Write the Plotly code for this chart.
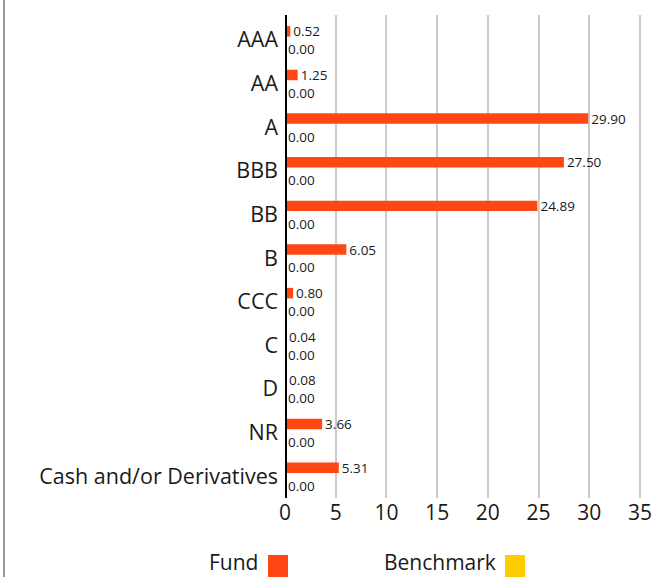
import plotly.graph_objects as go

categories = ["AAA", "AA", "A", "BBB", "BB", "B", "CCC", "C", "D", "NR", "Cash and/or Derivatives"]
fund = [0.52, 1.25, 29.90, 27.50, 24.89, 6.05, 0.80, 0.04, 0.08, 3.66, 5.31]
benchmark = [0.00, 0.00, 0.00, 0.00, 0.00, 0.00, 0.00, 0.00, 0.00, 0.00, 0.00]
x_ticks = [0, 5, 10, 15, 20, 25, 30, 35]

FUND_COLOR = "#FF4713"
BENCH_COLOR = "#FFCC00"
FONT = "Open Sans, sans-serif"
TXT = "#1A1A1A"

BAND = 43.7  # px per category
BAR_W = 10.5 / BAND

fig = go.Figure()
fig.add_trace(go.Bar(
    y=categories, x=fund, orientation="h", name="Fund",
    width=BAR_W, offset=-8.5 / BAND - BAR_W / 2,
    marker=dict(color=FUND_COLOR, line=dict(width=0)),
    texttemplate="%{x:.2f}", textposition="outside", cliponaxis=False,
    constraintext="none",
    textfont=dict(family=FONT, size=13.5, color=TXT),
))
fig.add_trace(go.Bar(
    y=categories, x=benchmark, orientation="h", name="Benchmark",
    width=BAR_W, offset=9.5 / BAND - BAR_W / 2,
    marker=dict(color=BENCH_COLOR, line=dict(width=0)),
    texttemplate="%{x:.2f}", textposition="outside", cliponaxis=False,
    constraintext="none",
    textfont=dict(family=FONT, size=13.5, color=TXT),
))

L, R, T, B = 285, 29, 15, 79
W, H = 672, 577
pw, ph = W - L - R, H - T - B

fig.update_layout(
    width=W, height=H,
    margin=dict(l=L, r=R, t=T, b=B, pad=0, autoexpand=False),
    paper_bgcolor="white", plot_bgcolor="white",
    barmode="overlay",
    showlegend=False,
    font=dict(family=FONT, color=TXT),
    xaxis=dict(
        range=[0, 35.3], tickvals=x_ticks, ticktext=[str(v) for v in x_ticks],
        showgrid=True, gridcolor="#CCCCCC", gridwidth=2,
        zeroline=False, showline=False,
        tickfont=dict(family=FONT, size=21, color=TXT),
        ticks="", ticklabelstandoff=0,
    ),
    yaxis=dict(
        range=[10.5, -0.5 - 3.0 / BAND], showgrid=False, zeroline=False, showline=False,
        tickfont=dict(family=FONT, size=21.5, color=TXT),
        ticks="", ticklabelstandoff=6,
    ),
)

# thick zero line
fig.add_shape(type="line", xref="x", yref="paper", x0=0, x1=0, y0=0, y1=1,
              line=dict(color="black", width=4), layer="above")
# left border of the card
fig.add_shape(type="line", xref="paper", yref="paper",
              x0=(4 - L) / pw, x1=(4 - L) / pw, y0=-B / ph, y1=1 + T / ph,
              line=dict(color="#999999", width=2))

# custom legend: text followed by a square
def px_x(p):
    return (p - L) / pw

def px_y(p):
    return (H - B - p) / ph

legend_items = [("Fund", FUND_COLOR, 260, 268), ("Benchmark", BENCH_COLOR, 498, 505)]
for label, color, text_right, sq_left in legend_items:
    fig.add_annotation(text=label, xref="paper", yref="paper",
                       x=px_x(text_right), y=px_y(562), xanchor="right", yanchor="middle",
                       showarrow=False, font=dict(family=FONT, size=21, color=TXT))
    fig.add_shape(type="rect", xref="paper", yref="paper",
                  x0=px_x(sq_left), x1=px_x(sq_left + 20), y0=px_y(577), y1=px_y(555),
                  fillcolor=color, line=dict(width=0))

fig.write_html("out.html", config={"displayModeBar": False},
               post_script="document.body.style.margin='0';document.body.style.overflow='hidden';")
